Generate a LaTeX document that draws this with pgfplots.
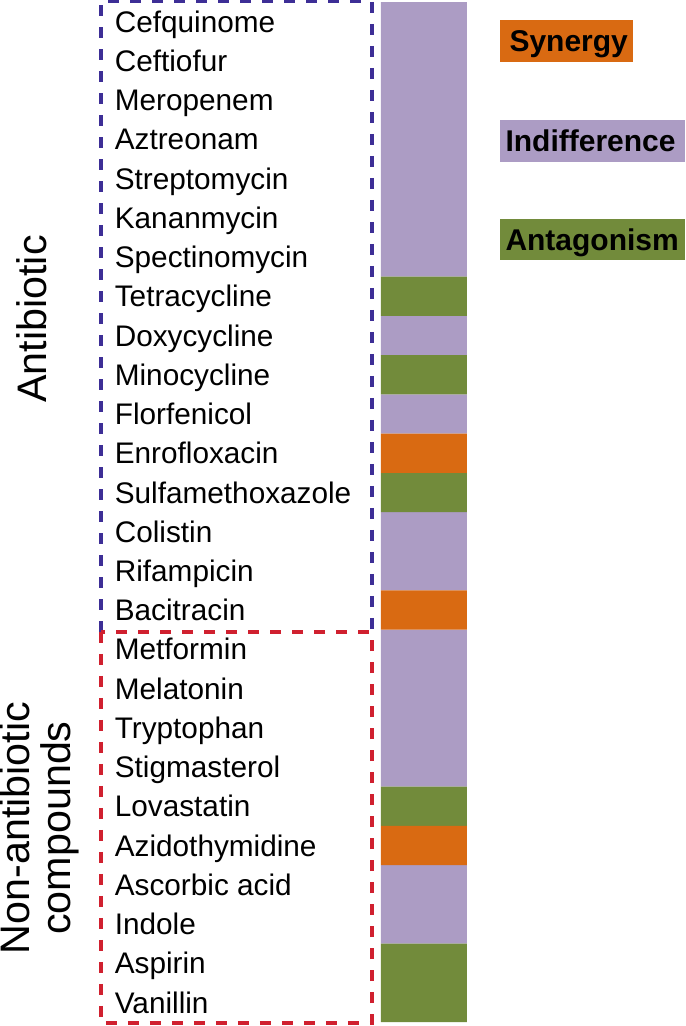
\documentclass[border=0pt]{standalone}
\usepackage{pgfplots}
\pgfplotsset{compat=1.18}
\usepackage{fontspec}
\setmainfont{Liberation Sans}
\definecolor{cInd}{HTML}{AC9CC4}
\definecolor{cSyn}{HTML}{D96A12}
\definecolor{cAnt}{HTML}{728B3B}
\definecolor{cBlue}{HTML}{3D2E96}
\definecolor{cRed}{HTML}{D0202F}
\begin{document}
\begin{tikzpicture}
\useasboundingbox (0,0) rectangle (274pt,410.4pt);
\begin{axis}[
  at={(152.4pt,1.6pt)}, anchor=south west,
  scale only axis, width=34.4pt, height=408pt,
  xmin=0, xmax=1, ymin=-0.5, ymax=25.5, y dir=reverse,
  xbar, bar width=1, bar shift=0pt,
  axis line style={draw=none}, tick style={draw=none},
  xtick=\empty,
  ytick={0,...,25},
  yticklabels={Cefquinome,Ceftiofur,Meropenem,Aztreonam,Streptomycin,Kananmycin,Spectinomycin,Tetracycline,Doxycycline,Minocycline,Florfenicol,Enrofloxacin,Sulfamethoxazole,Colistin,Rifampicin,Bacitracin,Metformin,Melatonin,Tryptophan,Stigmasterol,Lovastatin,Azidothymidine,Ascorbic acid,Indole,Aspirin,Vanillin},
  yticklabel style={anchor=west, inner sep=0pt, text height=8.5pt, text depth=0pt, xshift=-102.4pt, font=\fontsize{11.9}{14}\selectfont},
  clip=false,
]
\addplot[fill=cInd, draw=none] coordinates {
(1,0) (1,1) (1,2) (1,3) (1,4) (1,5) (1,6) (1,8) (1,10) (1,13) (1,14) (1,16) (1,17) (1,18) (1,19) (1,22) (1,23)};
\addplot[fill=cAnt, draw=none] coordinates {
(1,7) (1,9) (1,12) (1,20) (1,24) (1,25)};
\addplot[fill=cSyn, draw=none] coordinates {
(1,11) (1,15) (1,21)};
\end{axis}
% dashed group boxes
\draw[cBlue, line width=1.3pt, dash pattern=on 4.4pt off 4.4pt] (40.4pt,157.6pt) -- (40.4pt,409.8pt) -- (148.8pt,409.8pt) -- (148.8pt,157.6pt);
\draw[cRed, line width=1.3pt, dash pattern=on 4.4pt off 4.4pt] (40.4pt,157.6pt) rectangle (148.8pt,1.2pt);
% group labels
\node[rotate=90, font=\fontsize{16.5}{16}\selectfont] at (12.8pt,282.8pt) {Antibiotic};
\node[rotate=90, align=center, font=\fontsize{16.5}{16.5}\selectfont] at (15.6pt,79.2pt) {Non-antibiotic\\compounds};
% legend
\tikzset{legtext/.style={anchor=west, inner sep=0pt, text height=8.6pt, text depth=0pt, font=\bfseries\fontsize{12}{14}\selectfont}}
\fill[cSyn] (200pt,402.4pt) rectangle (253.2pt,385.6pt);
\node[legtext] at (203.6pt,394pt) {Synergy};
\fill[cInd] (200pt,362.4pt) rectangle (274pt,345.6pt);
\node[legtext] at (202pt,354pt) {Indifference};
\fill[cAnt] (200pt,322.8pt) rectangle (274pt,306.4pt);
\node[legtext] at (202pt,314.6pt) {Antagonism};
\end{tikzpicture}
\end{document}
